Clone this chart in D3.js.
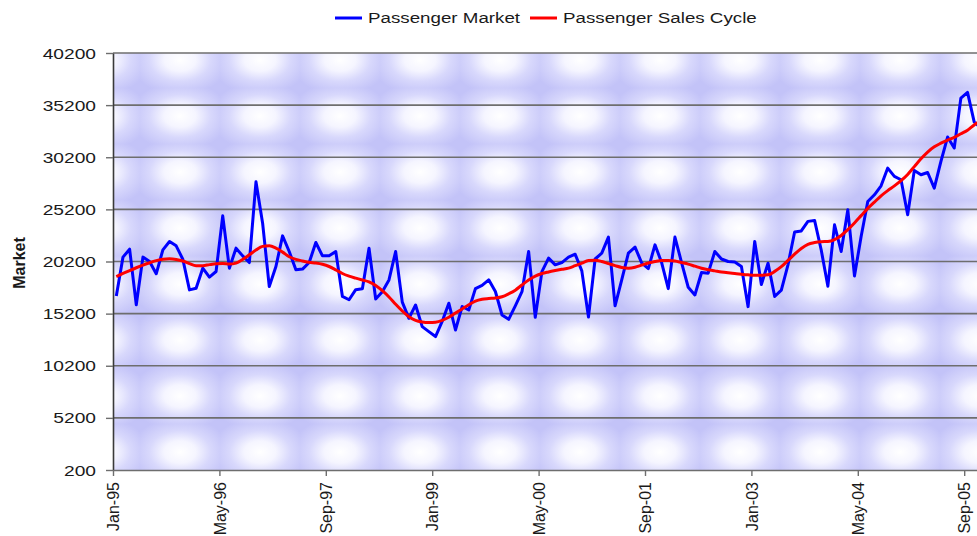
<!DOCTYPE html>
<html>
<head>
<meta charset="utf-8">
<script src="https://cdn.jsdelivr.net/npm/d3@7"></script>
<style>
  body { margin: 0; background: #fff; }
  svg { display: block; }
  text { font-family: "Liberation Sans", Arial, sans-serif; fill: #1a1a1a; }
</style>
</head>
<body>
<svg id="chart" width="977" height="536"></svg>
<script>
// datos mensuales desde Jan-95
const tickLabels = ["Jan-95", "May-96", "Sep-97", "Jan-99", "May-00", "Sep-01", "Jan-03", "May-04", "Sep-05"];
const yTicks = [200, 5200, 10200, 15200, 20200, 25200, 30200, 35200, 40200];

const passengerMarket = [
  16900, 20620, 21380, 16050, 20620, 20200, 19020, 21320, 22120, 21700, 20420, 17480,
  17640, 19560, 18700, 19240, 24580, 19560, 21480, 20740, 20100, 27850, 23870, 17800,
  19720, 22660, 21160, 19400, 19470, 20100, 22020, 20740, 20740, 21160, 16850, 16530,
  17500, 17580, 21480, 16600, 17300, 18430, 21160, 16300, 14750, 16030, 13950, 13470,
  13000, 14450, 16200, 13630, 15880, 15550, 17600, 17900, 18440, 17320, 15070, 14650,
  15950, 17300, 21160, 14850, 19230, 20520, 19880, 20100, 20620, 20900, 19300, 14870,
  20440, 21000, 22540, 15950, 18440, 21000, 21580, 20070, 19520, 21800, 20100, 17600,
  22540, 20100, 17730, 16990, 19140, 19080, 21160, 20440, 20200, 20150, 19720, 15870,
  22120, 18000, 20040, 16840, 17450, 19880, 23030, 23130, 24050, 24140, 21300, 17830,
  23720, 21160, 25160, 18820, 22600, 25960, 26600, 27460, 29160, 28360, 28040, 24680,
  28940, 28520, 28740, 27240, 29800, 32140, 31080, 35880, 36420, 33600, 33000
];

const salesCycle = [
  18760, 19050, 19330, 19600, 19850, 20080, 20280, 20420, 20460, 20400, 20250, 20000,
  19800, 19800, 19900, 19980, 20000, 19950, 20050, 20400, 20840, 21300, 21650, 21700,
  21480, 21100, 20650, 20400, 20250, 20120, 20050, 19930, 19720, 19400, 19050, 18800,
  18600, 18420, 18250, 17900, 17400, 16800, 16100, 15450, 14900, 14550, 14400, 14350,
  14380, 14550, 14850, 15250, 15650, 16050, 16400, 16580, 16650, 16700, 16820, 17100,
  17450, 17950, 18420, 18800, 19050, 19200, 19330, 19450, 19560, 19800, 20040, 20300,
  20330, 20200, 20000, 19800, 19630, 19560, 19650, 19850, 20050, 20200, 20300, 20300,
  20250, 20100, 19950, 19750, 19550, 19400, 19300, 19200, 19120, 19050, 18980, 18920,
  18880, 18880, 18920, 19250, 19700, 20300, 20900, 21450, 21850, 22020, 22100, 22120,
  22300, 22700, 23250, 23900, 24600, 25300, 25900, 26500, 27000, 27450, 27950, 28550,
  29300, 30050, 30700, 31200, 31550, 31850, 32100, 32450, 32800, 33300, 33700
];

const svg = d3.select("#chart");

// area de la grafica
const plotLeft = 113, plotTop = 53, plotBottom = 470, monthW = 6.65, nMonths = 132;
const x = d3.scaleLinear().domain([0, nMonths]).range([plotLeft, plotLeft + monthW * nMonths]);
const y = d3.scaleLinear().domain([200, 40200]).range([plotBottom, plotTop]);

// fondo con textura (degradado radial repetido)
const defs = svg.append("defs");
const grad = defs.append("radialGradient").attr("id", "blob")
  .attr("cx", "50%").attr("cy", "50%").attr("r", "62%");
grad.append("stop").attr("offset", "0%").attr("stop-color", "#ffffff");
grad.append("stop").attr("offset", "32%").attr("stop-color", "#f5f5ff");
grad.append("stop").attr("offset", "62%").attr("stop-color", "#d8d8fc");
grad.append("stop").attr("offset", "100%").attr("stop-color", "#c3c3f8");
const pat = defs.append("pattern").attr("id", "tex")
  .attr("patternUnits", "userSpaceOnUse")
  .attr("x", 140).attr("y", 32).attr("width", 80).attr("height", 56);
pat.append("rect").attr("width", 80).attr("height", 56).attr("fill", "url(#blob)");

defs.append("clipPath").attr("id", "plotclip")
  .append("rect").attr("x", plotLeft).attr("y", plotTop - 5).attr("width", 1000).attr("height", plotBottom - plotTop + 5);

svg.append("rect")
  .attr("x", plotLeft).attr("y", plotTop)
  .attr("width", x(nMonths) - plotLeft).attr("height", plotBottom - plotTop)
  .attr("fill", "url(#tex)");

// lineas de rejilla
svg.append("g").selectAll("line").data(yTicks.slice(1)).enter().append("line")
  .attr("x1", plotLeft).attr("x2", x(nMonths))
  .attr("y1", d => y(d)).attr("y2", d => y(d))
  .attr("stroke", "#6e6e6e").attr("stroke-width", 1.6);

// eje y
const yAxis = d3.axisLeft(y).tickValues(yTicks).tickFormat(d3.format("d"))
  .tickSize(7).tickPadding(0).tickSizeOuter(0);
const gy = svg.append("g").attr("transform", `translate(${plotLeft},0)`).call(yAxis);
gy.select(".domain").attr("stroke", "#3a3a3a").attr("stroke-width", 1.6);
gy.selectAll(".tick line").attr("stroke", "#6e6e6e").attr("stroke-width", 1.4);
gy.selectAll(".tick text")
  .attr("x", 0).attr("dy", "0.34em")
  .attr("transform", "translate(-17,0) scale(1.28,1)")
  .style("font-size", "15px").attr("fill", "#1a1a1a");

// eje x
const xTickMonths = tickLabels.map((d, i) => i * 16);
const xAxis = d3.axisBottom(x).tickValues(xTickMonths).tickSize(6).tickSizeOuter(0)
  .tickFormat((d, i) => tickLabels[i]);
const gx = svg.append("g").attr("transform", `translate(0,${plotBottom})`).call(xAxis);
gx.select(".domain").attr("stroke", "#6e6e6e").attr("stroke-width", 1.6);
gx.selectAll(".tick line").attr("stroke", "#6e6e6e").attr("stroke-width", 1.4);
gx.selectAll(".tick text")
  .attr("transform", "rotate(-90)")
  .attr("x", -12).attr("y", 0).attr("dy", "0.36em")
  .attr("text-anchor", "end")
  .style("font-size", "16px").attr("fill", "#1a1a1a");

// titulo del eje y
svg.append("text")
  .attr("transform", "translate(25,263) rotate(-90)")
  .attr("text-anchor", "middle")
  .style("font-size", "16px").style("font-weight", "bold")
  .text("Market");

// series
const line = d3.line().x((d, i) => x(i + 0.5)).y(d => y(d));
const plot = svg.append("g").attr("clip-path", "url(#plotclip)");
plot.append("path").datum(passengerMarket).attr("d", line)
  .attr("fill", "none").attr("stroke", "#0000ff").attr("stroke-width", 3).attr("stroke-linejoin", "round");
plot.append("path").datum(salesCycle).attr("d", d3.line().curve(d3.curveMonotoneX).x((d, i) => x(i + 0.5)).y(d => y(d)))
  .attr("fill", "none").attr("stroke", "#ff0000").attr("stroke-width", 3).attr("stroke-linejoin", "round");

// leyenda
const legend = [
  { name: "Passenger Market", color: "#0000ff", x: 335 },
  { name: "Passenger Sales Cycle", color: "#ff0000", x: 530 }
];
const lg = svg.append("g").selectAll("g").data(legend).enter().append("g")
  .attr("transform", d => `translate(${d.x},18)`);
lg.append("line").attr("x1", 0).attr("x2", 27).attr("y1", 0).attr("y2", 0)
  .attr("stroke", d => d.color).attr("stroke-width", 3);
lg.append("text")
  .attr("transform", "translate(33,0) scale(1.25,1)")
  .attr("dy", "0.35em")
  .style("font-size", "15px")
  .text(d => d.name);
</script>
</body>
</html>
